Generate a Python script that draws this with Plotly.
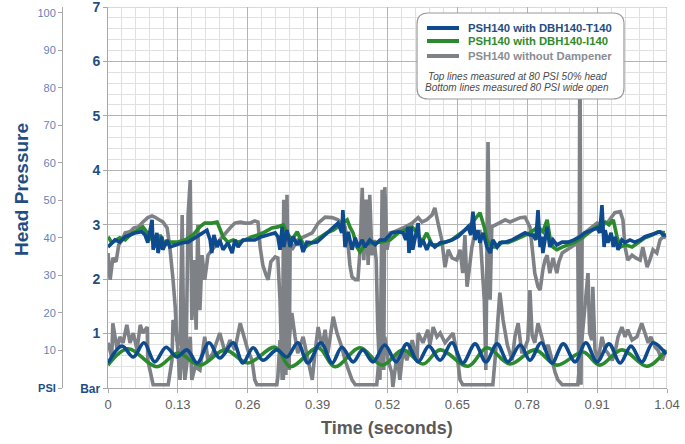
import plotly.graph_objects as go

# ---------------------------------------------------------------------------
# Measured head pressure (bar) against time (s)
# ---------------------------------------------------------------------------

# PSH140 without dampener - upper run (80 PSI, 50% head)
gray_top_t = [0.000, 0.004, 0.009, 0.015, 0.020, 0.026, 0.032, 0.041, 0.048, 0.056, 0.065, 0.074,
              0.082, 0.087, 0.095, 0.102, 0.110, 0.115, 0.121, 0.125, 0.128, 0.134, 0.138, 0.141,
              0.145, 0.149, 0.153, 0.156, 0.160, 0.164, 0.167, 0.171, 0.175, 0.180, 0.186, 0.193,
              0.201, 0.208, 0.218, 0.227, 0.236, 0.246, 0.255, 0.264, 0.273, 0.279, 0.283, 0.288,
              0.294, 0.298, 0.303, 0.311, 0.316, 0.320, 0.324, 0.327, 0.331, 0.333, 0.337, 0.339,
              0.342, 0.348, 0.353, 0.367, 0.380, 0.391, 0.404, 0.417, 0.428, 0.441, 0.447, 0.450,
              0.454, 0.460, 0.465, 0.469, 0.473, 0.476, 0.480, 0.484, 0.487, 0.491, 0.495, 0.499,
              0.502, 0.506, 0.510, 0.513, 0.515, 0.519, 0.525, 0.532, 0.540, 0.553, 0.566, 0.577,
              0.584, 0.593, 0.603, 0.608, 0.614, 0.621, 0.627, 0.633, 0.640, 0.649, 0.655, 0.660,
              0.664, 0.668, 0.672, 0.677, 0.683, 0.692, 0.700, 0.703, 0.707, 0.711, 0.714, 0.722,
              0.729, 0.739, 0.748, 0.757, 0.767, 0.776, 0.781, 0.785, 0.789, 0.794, 0.800, 0.804,
              0.809, 0.813, 0.817, 0.822, 0.828, 0.835, 0.839, 0.845, 0.854, 0.863, 0.869, 0.874,
              0.876, 0.878, 0.880, 0.882, 0.887, 0.900, 0.910, 0.921, 0.930, 0.943, 0.953, 0.958,
              0.962, 0.967, 0.975, 0.982, 0.990, 0.995, 1.003, 1.008, 1.014, 1.021, 1.027, 1.033,
              1.038]
gray_top_bar = [2.48, 1.99, 2.39, 2.32, 2.63, 2.72, 2.85, 2.87, 2.94, 2.96, 3.05, 3.13,
                3.16, 3.14, 3.09, 3.05, 2.94, 2.59, 1.99, 1.49, 0.88, 0.79, 3.18, 0.70,
                0.33, 3.18, 3.82, 1.25, 2.35, 1.07, 3.00, 1.43, 2.44, 1.99, 2.44, 2.54,
                2.63, 2.72, 2.85, 2.94, 3.03, 3.05, 3.03, 3.03, 3.07, 3.05, 2.59, 2.26,
                2.08, 1.99, 2.32, 2.41, 2.39, 1.62, 0.15, 3.46, 0.24, 3.55, 0.33, 2.72,
                2.54, 2.63, 2.72, 2.79, 2.85, 3.03, 3.14, 3.13, 3.09, 2.96, 2.59, 2.26,
                2.04, 1.99, 1.99, 2.54, 3.68, 2.35, 3.46, 2.26, 3.55, 2.44, 2.72, 2.35,
                1.07, 0.15, 3.64, 0.33, 3.69, 2.54, 2.85, 2.87, 2.90, 2.96, 3.03, 3.13,
                3.05, 3.09, 3.18, 3.31, 3.03, 2.72, 2.22, 2.54, 2.39, 2.35, 2.54, 2.11,
                2.81, 1.86, 2.17, 2.59, 2.85, 2.87, 1.62, 0.33, 4.52, 1.62, 2.96, 3.00,
                3.05, 3.09, 3.05, 3.09, 3.13, 3.14, 3.05, 2.96, 2.59, 2.11, 1.86, 1.80,
                2.17, 2.35, 2.44, 2.11, 2.39, 2.11, 2.32, 2.48, 2.54, 2.59, 2.63, 2.67,
                0.06, 6.80, 0.06, 2.72, 2.85, 2.96, 3.03, 3.00, 3.05, 3.22, 3.24, 3.09,
                2.59, 2.35, 2.44, 2.39, 2.35, 2.59, 2.22, 2.35, 2.54, 2.48, 2.72, 2.78,
                2.76]

# PSH140 without dampener - lower run (80 PSI, wide open)
gray_bot_t = [0.000, 0.007, 0.009, 0.017, 0.022, 0.028, 0.035, 0.041, 0.047, 0.054, 0.060, 0.065,
              0.073, 0.074, 0.082, 0.084, 0.112, 0.119, 0.121, 0.128, 0.134, 0.138, 0.143, 0.153,
              0.156, 0.162, 0.171, 0.180, 0.186, 0.195, 0.208, 0.218, 0.227, 0.236, 0.246, 0.255,
              0.260, 0.268, 0.273, 0.277, 0.314, 0.316, 0.320, 0.326, 0.331, 0.335, 0.342, 0.348,
              0.353, 0.363, 0.372, 0.380, 0.385, 0.391, 0.398, 0.404, 0.409, 0.419, 0.426, 0.435,
              0.441, 0.454, 0.460, 0.500, 0.502, 0.508, 0.512, 0.515, 0.521, 0.528, 0.530, 0.538,
              0.543, 0.549, 0.556, 0.566, 0.575, 0.577, 0.586, 0.595, 0.599, 0.605, 0.612, 0.618,
              0.627, 0.636, 0.642, 0.649, 0.655, 0.660, 0.716, 0.720, 0.729, 0.735, 0.743, 0.752,
              0.757, 0.763, 0.770, 0.776, 0.781, 0.785, 0.789, 0.794, 0.800, 0.807, 0.813, 0.819,
              0.826, 0.832, 0.837, 0.845, 0.874, 0.882, 0.887, 0.893, 0.896, 0.900, 0.902, 0.906,
              0.912, 0.919, 0.925, 0.930, 0.938, 0.943, 0.949, 0.956, 0.962, 0.967, 0.975, 0.984,
              0.993, 0.999, 1.005, 1.010, 1.018, 1.023, 1.031, 1.036]
gray_bot_bar = [0.83, 0.57, 1.19, 0.70, 0.94, 0.83, 1.16, 0.83, 1.01, 0.70, 1.16, 1.01,
                1.12, 0.51, 0.15, 0.06, 0.06, 0.51, 1.25, 0.94, 0.15, 1.01, 0.15, 0.94,
                0.15, 0.39, 0.33, 0.94, 0.51, 0.64, 1.01, 0.64, 0.88, 0.70, 1.19, 0.88,
                0.70, 0.51, 0.15, 0.06, 0.06, 0.20, 0.88, 0.15, 1.07, 0.70, 1.38, 0.94,
                0.64, 0.94, 0.51, 0.15, 0.64, 1.12, 0.75, 1.07, 0.64, 1.31, 1.01, 0.75,
                0.51, 0.15, 0.06, 0.06, 0.28, 1.07, 0.51, 0.94, 0.51, 0.28, 0.02, 0.64,
                0.15, 0.70, 0.51, 0.88, 0.51, 1.01, 0.83, 1.07, 0.79, 1.12, 0.94, 1.01,
                0.83, 0.94, 1.01, 0.64, 0.15, 0.06, 0.06, 0.51, 1.75, 1.25, 0.79, 0.51,
                0.94, 1.19, 0.64, 0.75, 0.88, 1.80, 0.97, 0.83, 1.19, 0.94, 0.70, 0.79,
                0.51, 0.28, 0.15, 0.06, 0.06, 0.88, 1.38, 2.11, 1.01, 0.88, 1.86, 0.70,
                0.51, 0.94, 0.70, 0.64, 0.51, 0.64, 0.94, 1.12, 0.94, 1.07, 0.88, 0.94,
                1.19, 1.01, 0.83, 0.94, 0.75, 0.70, 0.51, 0.64]

# PSH140 with DBH140-I140 - upper run
green_top_t = [0.000, 0.007, 0.015, 0.022, 0.032, 0.045, 0.056, 0.065, 0.073, 0.082, 0.087, 0.097,
               0.106, 0.115, 0.128, 0.143, 0.158, 0.171, 0.180, 0.193, 0.203, 0.208, 0.214, 0.223,
               0.233, 0.242, 0.255, 0.268, 0.279, 0.292, 0.305, 0.316, 0.326, 0.333, 0.342, 0.352,
               0.357, 0.367, 0.380, 0.394, 0.407, 0.419, 0.432, 0.445, 0.450, 0.456, 0.463, 0.469,
               0.478, 0.491, 0.506, 0.525, 0.540, 0.553, 0.566, 0.575, 0.584, 0.593, 0.603, 0.614,
               0.627, 0.640, 0.651, 0.664, 0.677, 0.692, 0.700, 0.705, 0.714, 0.724, 0.733, 0.744,
               0.757, 0.770, 0.785, 0.800, 0.809, 0.817, 0.822, 0.828, 0.835, 0.845, 0.856, 0.869,
               0.882, 0.893, 0.906, 0.915, 0.925, 0.932, 0.940, 0.947, 0.953, 0.962, 0.975, 0.986,
               0.999, 1.012, 1.023, 1.036]
green_top_bar = [2.78, 2.67, 2.72, 2.76, 2.72, 2.85, 2.90, 2.96, 2.85, 2.72, 2.59, 2.81,
                 2.63, 2.68, 2.68, 2.72, 2.81, 2.96, 3.03, 3.03, 3.05, 2.94, 2.78, 2.68,
                 2.72, 2.68, 2.72, 2.78, 2.81, 2.87, 2.94, 2.96, 3.00, 2.85, 2.72, 2.87,
                 2.76, 2.59, 2.68, 2.76, 2.85, 2.90, 3.00, 3.09, 2.96, 2.85, 2.59, 2.50,
                 2.63, 2.67, 2.68, 2.72, 2.85, 2.90, 2.96, 2.85, 2.68, 2.85, 2.63, 2.63,
                 2.67, 2.72, 2.81, 2.90, 3.03, 3.22, 2.96, 2.72, 2.59, 2.59, 2.68, 2.67,
                 2.72, 2.78, 2.85, 2.96, 2.87, 3.09, 2.78, 2.59, 2.54, 2.59, 2.63, 2.68,
                 2.76, 2.85, 2.94, 3.00, 3.05, 3.00, 3.09, 2.78, 2.59, 2.63, 2.59, 2.67,
                 2.76, 2.81, 2.87, 2.85]

# PSH140 with DBH140-I140 - lower run (peaks and troughs)
green_bot_t = [0.000, 0.037, 0.091, 0.130, 0.171, 0.218, 0.260, 0.311, 0.339, 0.391, 0.422, 0.469,
               0.510, 0.549, 0.586, 0.618, 0.670, 0.705, 0.748, 0.794, 0.835, 0.884, 0.915, 0.956,
               1.003, 1.038]
green_bot_bar = [0.42, 0.72, 0.39, 0.64, 0.42, 0.70, 0.46, 0.75, 0.39, 0.74, 0.39, 0.74,
                 0.42, 0.70, 0.44, 0.70, 0.40, 0.74, 0.44, 0.70, 0.42, 0.66, 0.42, 0.70,
                 0.40, 0.70]

# PSH140 with DBH140-T140 - upper run
blue_top_t = [0.000, 0.007, 0.013, 0.022, 0.032, 0.041, 0.050, 0.063, 0.069, 0.074, 0.082, 0.084,
              0.091, 0.093, 0.100, 0.102, 0.110, 0.115, 0.125, 0.138, 0.149, 0.162, 0.175, 0.184,
              0.190, 0.193, 0.197, 0.203, 0.208, 0.214, 0.223, 0.231, 0.236, 0.242, 0.251, 0.264,
              0.273, 0.286, 0.298, 0.311, 0.316, 0.320, 0.324, 0.327, 0.333, 0.339, 0.344, 0.352,
              0.357, 0.363, 0.370, 0.380, 0.389, 0.398, 0.409, 0.419, 0.428, 0.435, 0.437, 0.441,
              0.447, 0.454, 0.460, 0.465, 0.473, 0.478, 0.487, 0.497, 0.506, 0.515, 0.528, 0.540,
              0.549, 0.554, 0.558, 0.560, 0.564, 0.567, 0.575, 0.577, 0.580, 0.586, 0.593, 0.599,
              0.608, 0.618, 0.627, 0.640, 0.651, 0.664, 0.670, 0.675, 0.679, 0.683, 0.688, 0.692,
              0.698, 0.705, 0.711, 0.716, 0.724, 0.729, 0.739, 0.752, 0.763, 0.776, 0.785, 0.791,
              0.796, 0.800, 0.804, 0.807, 0.809, 0.817, 0.822, 0.828, 0.835, 0.845, 0.856, 0.867,
              0.878, 0.887, 0.900, 0.910, 0.915, 0.919, 0.923, 0.925, 0.930, 0.936, 0.940, 0.943,
              0.949, 0.956, 0.962, 0.971, 0.980, 0.990, 0.999, 1.008, 1.018, 1.027, 1.033, 1.038]
blue_top_bar = [2.59, 2.67, 2.72, 2.68, 2.78, 2.81, 2.85, 2.87, 2.81, 2.67, 3.09, 2.54,
                2.85, 2.48, 2.78, 2.54, 2.72, 2.59, 2.63, 2.67, 2.68, 2.76, 2.85, 2.90,
                2.72, 2.48, 2.81, 2.59, 2.72, 2.54, 2.67, 2.48, 2.72, 2.59, 2.72, 2.72,
                2.72, 2.78, 2.81, 2.85, 2.78, 2.54, 2.96, 2.59, 2.90, 2.59, 2.78, 2.63,
                2.72, 2.50, 2.68, 2.67, 2.68, 2.76, 2.85, 2.94, 3.03, 2.85, 3.27, 2.59,
                2.87, 2.54, 2.76, 2.59, 2.72, 2.59, 2.72, 2.63, 2.72, 2.72, 2.85, 2.87,
                2.85, 2.72, 2.96, 2.48, 2.96, 2.54, 2.90, 3.03, 2.59, 2.72, 2.54, 2.68,
                2.59, 2.67, 2.68, 2.72, 2.78, 2.90, 2.96, 2.81, 3.24, 2.72, 2.90, 2.67,
                2.85, 2.59, 2.48, 2.72, 2.59, 2.67, 2.68, 2.72, 2.78, 2.85, 2.81, 2.81,
                2.72, 3.27, 2.59, 2.78, 2.48, 2.96, 2.59, 2.72, 2.63, 2.68, 2.68, 2.72,
                2.78, 2.85, 2.90, 2.94, 2.85, 3.36, 2.59, 2.90, 2.67, 2.85, 2.59, 2.78,
                2.54, 2.72, 2.67, 2.72, 2.68, 2.72, 2.78, 2.81, 2.85, 2.87, 2.81, 2.81]

# PSH140 with DBH140-T140 - lower run (peaks and troughs)
blue_bot_t = [0.000, 0.026, 0.047, 0.067, 0.087, 0.108, 0.128, 0.147, 0.166, 0.188, 0.208, 0.233,
              0.251, 0.270, 0.288, 0.314, 0.333, 0.353, 0.372, 0.396, 0.417, 0.435, 0.456, 0.474,
              0.493, 0.515, 0.536, 0.556, 0.577, 0.597, 0.618, 0.640, 0.660, 0.683, 0.703, 0.724,
              0.744, 0.767, 0.785, 0.806, 0.826, 0.847, 0.869, 0.889, 0.910, 0.932, 0.953, 0.973,
              0.993, 1.014, 1.038]
blue_bot_bar = [0.46, 0.77, 0.57, 0.83, 0.48, 0.75, 0.57, 0.70, 0.46, 0.83, 0.55, 0.83,
                0.46, 0.74, 0.51, 0.70, 0.57, 0.83, 0.46, 0.83, 0.46, 0.75, 0.48, 0.70,
                0.48, 0.79, 0.48, 0.81, 0.48, 0.77, 0.51, 0.83, 0.46, 0.81, 0.48, 0.81,
                0.48, 0.79, 0.51, 0.83, 0.46, 0.81, 0.48, 0.83, 0.48, 0.81, 0.46, 0.77,
                0.48, 0.83, 0.62]

# Axis ticks
time_ticks = [0, 0.13, 0.26, 0.39, 0.52, 0.65, 0.78, 0.91, 1.04]
time_labels = ["0", "0.13", "0.26", "0.39", "0.52", "0.65", "0.78", "0.91", "1.04"]
bar_ticks = [0, 1, 2, 3, 4, 5, 6, 7]
bar_labels = ["<span style='font-size:12px'>Bar</span>", "1", "2", "3", "4", "5", "6", "7"]
psi_ticks = [0, 10, 20, 30, 40, 50, 60, 70, 80, 90, 100]
psi_labels = ["<b><span style='color:#1f4e85'>PSI</span></b>", "10", "20", "30", "40", "50",
              "60", "70", "80", "90", "100"]
PSI_PER_BAR = 14.5038

legend_names = ["PSH140 with DBH140-T140", "PSH140 with DBH140-I140", "PSH140 without Dampener"]
legend_notes = ["Top lines measured at 80 PSI 50% head", "Bottom lines measured 80 PSI wide open"]

# Styling
BLUE = "#0e4a8e"
GREEN = "#2b8a2e"
GRAY = "#7e8287"
DARK_BLUE = "#1f4e85"
MAJOR_GRID = "#b4b4b4"
MINOR_GRID = "#e0e0e0"
FONT = "Liberation Sans, Arial, sans-serif"

W, H = 685, 444
ML, MR, MT, MB = 40, 18, 7, 56
PLOT_LEFT = 108           # pixel where the time axis starts


def px_x(px):
    """Pixel column -> paper x."""
    return (px - ML) / (W - ML - MR)


def px_y(py):
    """Pixel row -> paper y."""
    return (H - MB - py) / (H - MT - MB)


fig = go.Figure()

line_w = 3.6
fig.add_trace(go.Scatter(x=gray_top_t, y=gray_top_bar, mode="lines",
                         line=dict(color=GRAY, width=line_w), showlegend=False))
fig.add_trace(go.Scatter(x=gray_bot_t, y=gray_bot_bar, mode="lines",
                         line=dict(color=GRAY, width=line_w), showlegend=False))
fig.add_trace(go.Scatter(x=green_top_t, y=green_top_bar, mode="lines",
                         line=dict(color=GREEN, width=line_w), showlegend=False))
fig.add_trace(go.Scatter(x=green_bot_t, y=green_bot_bar, mode="lines",
                         line=dict(color=GREEN, width=line_w, shape="spline", smoothing=1.0),
                         showlegend=False))
fig.add_trace(go.Scatter(x=blue_top_t, y=blue_top_bar, mode="lines",
                         line=dict(color=BLUE, width=line_w), showlegend=False))
fig.add_trace(go.Scatter(x=blue_bot_t, y=blue_bot_bar, mode="lines",
                         line=dict(color=BLUE, width=line_w, shape="spline", smoothing=1.0),
                         showlegend=False))
# invisible carrier for the secondary PSI axis
fig.add_trace(go.Scatter(x=[None], y=[None], yaxis="y2", showlegend=False, hoverinfo="skip"))

fig.update_layout(
    width=W, height=H,
    margin=dict(l=ML, r=MR, t=MT, b=MB, autoexpand=False),
    paper_bgcolor="white", plot_bgcolor="white",
    font=dict(family=FONT),
    showlegend=False,
    xaxis=dict(
        domain=[px_x(PLOT_LEFT), 1], range=[0, 1.04], automargin=False,
        tickmode="array", tickvals=time_ticks, ticktext=time_labels,
        tickfont=dict(size=13, color="#5e5e5e"),
        showgrid=True, gridcolor=MAJOR_GRID, gridwidth=1,
        minor=dict(dtick=0.026, tick0=0, showgrid=True, gridcolor=MINOR_GRID, gridwidth=1),
        showline=True, linecolor="#a8a8a8", linewidth=1,
        ticks="outside", ticklen=4, tickcolor="#a8a8a8",
        ticklabeloverflow="allow",
        zeroline=False, fixedrange=True,
    ),
    yaxis=dict(
        range=[0, 7], anchor="x", automargin=False,
        tickmode="array", tickvals=bar_ticks, ticktext=bar_labels,
        tickfont=dict(size=14, color=DARK_BLUE, weight="bold"),
        showgrid=True, gridcolor=MAJOR_GRID, gridwidth=1,
        minor=dict(dtick=0.2, tick0=0, showgrid=True, gridcolor=MINOR_GRID, gridwidth=1),
        showline=True, linecolor="#a8a8a8", linewidth=1,
        ticks="outside", ticklen=4, tickcolor="#a8a8a8",
        ticklabeloverflow="allow",
        zeroline=False, fixedrange=True,
    ),
    yaxis2=dict(
        range=[0, 7 * PSI_PER_BAR], overlaying="y", anchor="free", side="left",
        position=px_x(62), automargin=False,
        tickmode="array", tickvals=psi_ticks, ticktext=psi_labels,
        tickfont=dict(size=11, color="#5f84bb"),
        showgrid=False, zeroline=False,
        showline=True, linecolor="#a8a8a8", linewidth=1,
        ticks="outside", ticklen=4, tickcolor="#a8a8a8",
        ticklabeloverflow="allow", fixedrange=True,
    ),
)

# Grid lines on the top and right borders of the plotting area
fig.add_shape(type="line", xref="x domain", yref="y", x0=0, x1=1, y0=7, y1=7,
              layer="below", line=dict(color=MAJOR_GRID, width=1))
fig.add_shape(type="line", xref="x", yref="y domain", x0=1.04, x1=1.04, y0=0, y1=1,
              layer="below", line=dict(color=MAJOR_GRID, width=1))

# Axis titles
fig.add_annotation(text="<b>Head Pressure</b>", textangle=-90, showarrow=False,
                   xref="paper", yref="paper", x=px_x(21), y=px_y(190),
                   xanchor="center", yanchor="middle",
                   font=dict(size=19, color=DARK_BLUE, family=FONT))
fig.add_annotation(text="<b>Time (seconds)</b>", showarrow=False,
                   xref="paper", yref="paper", x=px_x(387), y=px_y(428),
                   xanchor="center", yanchor="middle",
                   font=dict(size=18, color="#5a5a5a", family=FONT))

# Legend panel with rounded corners
bx0, bx1, by0, by1, r = 417, 624, 13, 99, 11
rx = r / (W - ML - MR)
ry = r / (H - MT - MB)
X0, X1, Y0, Y1 = px_x(bx0), px_x(bx1), px_y(by1), px_y(by0)
path = (f"M {X0 + rx} {Y0} L {X1 - rx} {Y0} Q {X1} {Y0} {X1} {Y0 + ry} "
        f"L {X1} {Y1 - ry} Q {X1} {Y1} {X1 - rx} {Y1} "
        f"L {X0 + rx} {Y1} Q {X0} {Y1} {X0} {Y1 - ry} "
        f"L {X0} {Y0 + ry} Q {X0} {Y0} {X0 + rx} {Y0} Z")
fig.add_shape(type="path", path=path, xref="paper", yref="paper", layer="above",
              fillcolor="white", line=dict(color="#9a9a9a", width=1.2))

entry_rows = [28, 41, 56]
entry_colors = [BLUE, GREEN, GRAY]
text_colors = [DARK_BLUE, "#2e8b30", "#8a8d91"]
for row, name, lc, tc in zip(entry_rows, legend_names, entry_colors, text_colors):
    fig.add_shape(type="line", xref="paper", yref="paper", layer="above",
                  x0=px_x(427), x1=px_x(459), y0=px_y(row), y1=px_y(row),
                  line=dict(color=lc, width=4))
    fig.add_annotation(text=f"<b>{name}</b>", showarrow=False, xref="paper", yref="paper",
                       x=px_x(466), y=px_y(row), xanchor="left", yanchor="middle",
                       font=dict(size=11.3, color=tc, family=FONT))

for row, note in zip([76, 88], legend_notes):
    fig.add_annotation(text=f"<i>{note}</i>", showarrow=False, xref="paper", yref="paper",
                       x=px_x(517), y=px_y(row), xanchor="center", yanchor="middle",
                       font=dict(size=10, color="#4a4a4a", family=FONT))

fig.write_html("out.html")
